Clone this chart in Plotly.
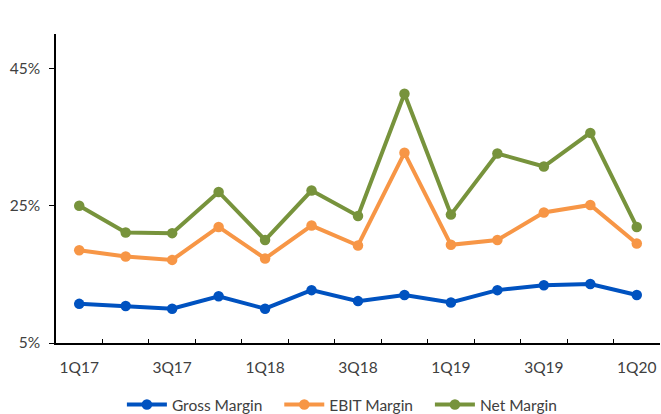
import plotly.graph_objects as go

quarters = ["1Q17", "2Q17", "3Q17", "4Q17", "1Q18", "2Q18", "3Q18",
            "4Q18", "1Q19", "2Q19", "3Q19", "4Q19", "1Q20"]
tick_labels = ["1Q17", "", "3Q17", "", "1Q18", "", "3Q18",
               "", "1Q19", "", "3Q19", "", "1Q20"]

gross_margin = [10.7, 10.4, 10.0, 11.8, 10.0, 12.7, 11.1,
                12.0, 10.9, 12.7, 13.4, 13.6, 12.0]
ebit_margin = [18.5, 17.6, 17.1, 21.9, 17.3, 22.1, 19.2,
               32.7, 19.3, 20.0, 24.0, 25.1, 19.5]
net_margin = [25.0, 21.1, 21.0, 27.0, 20.0, 27.2, 23.5,
              41.3, 23.7, 32.6, 30.7, 35.6, 21.9]

y_ticks = [5, 25, 45]
y_tick_text = ["5%", "25%", "45%"]

series = [
    ("Gross Margin", gross_margin, "#0052C0"),
    ("EBIT Margin", ebit_margin, "#F79646"),
    ("Net Margin", net_margin, "#77933C"),
]

# extra trailing padding between legend entries
pad = "\u00a0\u00a0\u00a0"

fig = go.Figure()
for i, (name, values, color) in enumerate(series):
    label = name + (pad if i < len(series) - 1 else "")
    fig.add_trace(go.Scatter(
        x=quarters, y=values, name=label, mode="lines+markers",
        line=dict(color=color, width=4),
        marker=dict(color=color, size=10.5),
    ))

family = "Lato, Liberation Sans, sans-serif"
tick_font = dict(family=family, size=15.5, color="#404040")

fig.update_layout(
    width=661, height=414,
    margin=dict(l=56, r=1, t=34, b=71, autoexpand=False),
    plot_bgcolor="white", paper_bgcolor="white",
    font=tick_font,
    showlegend=True,
    legend=dict(orientation="h", xref="container", x=0.518, xanchor="center",
                yref="container", y=0.022, yanchor="middle",
                font=dict(family=family, size=15.5, color="#404040"),
                itemwidth=40, tracegroupgap=0, borderwidth=0),
    xaxis=dict(
        type="category", tickvals=quarters, ticktext=tick_labels,
        tickson="boundaries", ticks="inside", ticklen=4, tickcolor="black",
        showline=True, linecolor="black", linewidth=1.5,
        showgrid=False, zeroline=False, range=[-0.5, 12.5],
        tickfont=tick_font, tickangle=0, ticklabelstandoff=10, automargin=False,
    ),
    yaxis=dict(
        range=[5, 50], tickvals=y_ticks, ticktext=y_tick_text,
        ticks="outside", ticklen=5, tickcolor="black",
        showline=True, linecolor="black", linewidth=1.5,
        showgrid=False, zeroline=False,
        tickfont=tick_font, ticklabelstandoff=6, automargin=False,
    ),
)

fig.write_html("out.html")
